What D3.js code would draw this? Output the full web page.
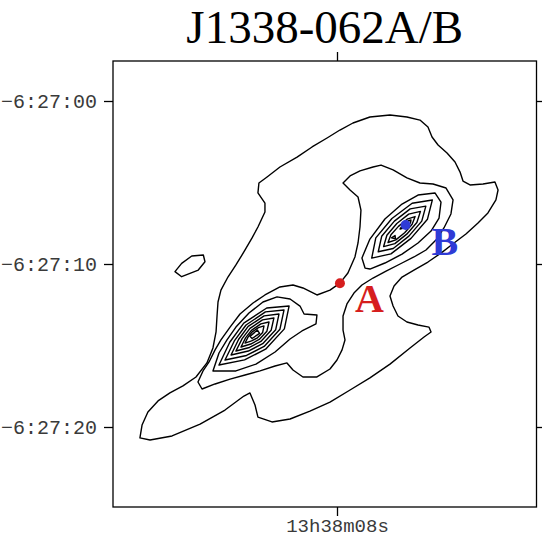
<!DOCTYPE html>
<html>
<head>
<meta charset="utf-8">
<script src="https://cdn.jsdelivr.net/npm/d3@7"></script>
<style>
  html, body { margin: 0; padding: 0; background: #fff; }
  svg { display: block; }
</style>
</head>
<body>
<svg id="chart" width="542" height="538"></svg>
<script>
// Contour vertices are sky offsets in arcseconds from RA 13h38m08s, Dec -6:27:00
// (x grows to the west, y grows to the south).

const outerContour = [[-12.09,20.67],[-11.96,19.88],[-11.60,19.08],[-10.98,18.40],[-10.25,17.91],[-9.45,17.48],[-8.65,16.93],[-7.98,16.07],[-7.61,15.15],[-7.42,14.17],[-7.36,13.19],[-7.30,12.33],[-7.12,11.60],[-6.69,10.80],[-6.20,10.06],[-5.64,9.14],[-5.21,8.40],[-4.85,7.73],[-4.42,6.81],[-4.42,6.26],[-4.85,5.64],[-4.79,5.03],[-4.29,4.66],[-3.50,4.05],[-2.45,3.44],[-1.53,2.82],[-0.61,2.27],[0.18,1.78],[0.98,1.35],[2.02,0.98],[3.25,0.86],[4.29,0.98],[5.09,1.17],[5.58,1.60],[5.83,2.21],[6.20,2.70],[6.75,3.19],[7.24,3.74],[7.55,4.36],[7.73,4.91],[8.16,5.15],[8.96,5.09],[9.69,4.97],[9.88,5.46],[9.75,6.07],[9.26,6.87],[8.65,7.48],[7.91,8.16],[7.18,8.71],[6.38,9.33],[5.58,9.88],[4.72,10.37],[3.99,10.80],[3.50,11.35],[3.25,11.96],[3.44,12.58],[3.74,13.19],[4.29,13.56],[4.97,13.74],[5.64,13.87],[5.77,14.17],[5.34,14.48],[4.48,15.15],[3.25,16.14],[2.02,16.99],[0.80,17.73],[-0.43,18.47],[-1.66,19.02],[-2.88,19.51],[-3.99,19.69],[-4.85,19.39],[-5.03,18.65],[-5.34,17.91],[-5.71,18.10],[-6.87,18.96],[-8.40,19.82],[-10.12,20.55],[-11.47,20.80]];

const bridgeContour = [[0.37,5.03],[0.80,4.60],[1.41,4.29],[2.21,4.05],[2.70,3.93],[3.44,4.23],[4.29,4.72],[5.09,5.03],[5.89,5.09],[6.69,5.34],[7.12,6.07],[6.99,6.93],[6.56,7.79],[6.07,8.53],[5.46,9.14],[4.72,9.57],[3.87,10.00],[3.01,10.43],[2.21,10.86],[1.53,11.29],[1.04,11.78],[0.61,12.45],[0.37,13.19],[0.37,14.05],[0.49,14.66],[0.31,15.27],[0,15.89],[-0.43,16.44],[-1.23,16.93],[-2.09,16.93],[-2.70,16.50],[-3.07,16.07],[-3.80,16.26],[-4.72,16.56],[-5.64,16.81],[-6.56,17.06],[-7.48,17.36],[-8.28,17.67],[-8.53,17.24],[-8.22,16.56],[-7.85,16.01],[-7.48,15.27],[-7.12,14.66],[-6.56,13.87],[-5.95,13.07],[-5.15,12.39],[-4.42,11.90],[-3.50,11.41],[-2.70,11.29],[-2.09,11.47],[-1.23,11.90],[-0.43,11.60],[0.18,11.17],[0.67,10.55],[1.10,9.57],[1.29,8.71],[1.41,7.73],[1.47,6.69],[1.29,5.89],[0.80,5.46]];

const islandContour = [[-9.94,10.47],[-9.53,9.96],[-8.91,9.51],[-8.20,9.45],[-8.10,9.86],[-8.51,10.37],[-9.02,10.57],[-9.53,10.78]];

// Nested levels around the south-west peak
const southPeak3 = [[-7.61,16.56],[-7.24,15.46],[-6.75,14.66],[-6.20,13.87],[-5.40,13.01],[-4.54,12.33],[-3.68,12.02],[-2.88,12.15],[-2.27,12.58],[-2.02,13.07],[-1.23,13.13],[-1.29,13.68],[-2.15,14.11],[-2.88,14.60],[-3.80,15.40],[-4.97,16.14],[-6.20,16.56]];
const southPeak4 = [[-2.94,12.58],[-3.23,13.98],[-4.38,15.23],[-5.67,15.88],[-7.24,16.20],[-6.58,14.80],[-5.72,13.63],[-4.31,12.70]];
const southPeak5 = [[-3.25,12.82],[-3.50,14.00],[-4.47,15.06],[-5.55,15.61],[-6.87,15.89],[-6.30,14.72],[-5.58,13.74],[-4.39,12.94]];
const southPeak6 = [[-3.56,13.07],[-3.76,14.03],[-4.56,14.89],[-5.44,15.34],[-6.50,15.58],[-6.04,14.63],[-5.45,13.83],[-4.47,13.18]];
const southPeak7 = [[-3.87,13.31],[-4.04,14.07],[-4.67,14.75],[-5.37,15.12],[-6.20,15.34],[-5.82,14.58],[-5.34,13.95],[-4.57,13.43]];
const southPeak8 = [[-4.17,13.56],[-4.30,14.12],[-4.77,14.63],[-5.29,14.91],[-5.89,15.09],[-5.61,14.53],[-5.25,14.07],[-4.67,13.67]];
const southPeak9 = [[-4.48,13.80],[-4.56,14.20],[-4.88,14.53],[-5.24,14.72],[-5.64,14.85],[-5.45,14.47],[-5.20,14.16],[-4.82,13.90]];
const southPeak10 = [[-5.34,14.44],[-4.88,14.05],[-4.75,14.26],[-5.21,14.57]];

// Nested levels around the north-east peak
const northPeak3 = [[1.72,10.25],[1.53,9.63],[2.02,8.47],[2.94,7.24],[3.99,6.32],[4.97,5.77],[6.01,5.64],[6.38,6.20],[6.26,7.18],[5.77,7.98],[4.97,8.71],[3.99,9.39],[2.94,9.94],[2.02,10.31]];
const northPeak4 = [[5.85,6.07],[5.55,7.25],[4.54,8.43],[3.31,9.38],[2.13,9.64],[2.38,8.40],[3.37,7.21],[4.61,6.27]];
const northPeak5 = [[5.45,6.45],[5.20,7.37],[4.41,8.29],[3.45,9.05],[2.53,9.25],[2.74,8.30],[3.52,7.37],[4.49,6.62]];
const northPeak6 = [[5.12,6.77],[4.90,7.45],[4.28,8.17],[3.55,8.75],[2.86,8.93],[3.06,8.24],[3.67,7.52],[4.40,6.94]];
const northPeak7 = [[4.79,7.09],[4.61,7.56],[4.15,8.08],[3.61,8.52],[3.13,8.68],[3.31,8.20],[3.77,7.69],[4.30,7.25]];
const northPeak8a = [[3.87,7.85],[4.05,7.58],[4.36,7.36],[4.54,7.30],[4.51,7.48],[4.20,7.76]];
const northPeak8b = [[3.34,8.39],[3.56,8.25],[3.59,8.45]];

const contourSet = [
  outerContour, bridgeContour, islandContour,
  southPeak3, southPeak4, southPeak5, southPeak6, southPeak7, southPeak8, southPeak9, southPeak10,
  northPeak3, northPeak4, northPeak5, northPeak6, northPeak7, northPeak8a, northPeak8b
];

// Optical positions of the two components
const sourceNames = ["A", "B"];
const sourceX = [0.18, 4.21];
const sourceY = [11.18, 7.61];
const sourceColors = ["#d61e1e", "#2f3bd6"];

// Axis ticks
const decTicks = [0, 10, 20];
const decTickLabels = ["\u22126:27:00", "\u22126:27:10", "\u22126:27:20"];
const raTicks = [0];
const raTickLabels = ["13h38m08s"];

const titleText = "J1338-062A/B";

const svg = d3.select("#chart");

const x = d3.scaleLinear().domain([-13.742, 12.239]).range([113, 536.5]);
const y = d3.scaleLinear().domain([-2.454, 24.908]).range([61, 507]);

const [x0, x1] = x.range();
const [y0, y1] = y.range();

// Contours
const line = d3.line()
  .x(d => x(d[0]))
  .y(d => y(d[1]))
  .curve(d3.curveLinearClosed);

svg.append("g")
  .selectAll("path")
  .data(contourSet)
  .join("path")
  .attr("d", line)
  .attr("fill", "none")
  .attr("stroke", "#000")
  .attr("stroke-width", 1.4)
  .attr("stroke-linejoin", "round");

// Frame
svg.append("rect")
  .attr("x", x0).attr("y", y0)
  .attr("width", x1 - x0).attr("height", y1 - y0)
  .attr("fill", "none")
  .attr("stroke", "#000")
  .attr("stroke-width", 1.3);

const tickFont = "'Liberation Mono', 'Courier New', monospace";

function styleAxis(size) {
  return g => {
    g.select(".domain").remove();
    g.selectAll(".tick line").attr("stroke-width", 1.3);
    g.attr("font-family", tickFont).attr("font-size", size);
    g.selectAll(".tick text").attr("fill", "#3a3a3a");
  };
}

svg.append("g")
  .attr("transform", `translate(${x0},0)`)
  .call(d3.axisLeft(y).tickValues(decTicks).tickFormat((d, i) => decTickLabels[i]).tickSize(9).tickPadding(7))
  .call(styleAxis(20));

svg.append("g")
  .attr("transform", `translate(${x1},0)`)
  .call(d3.axisRight(y).tickValues(decTicks).tickFormat("").tickSize(9))
  .call(styleAxis(20));

svg.append("g")
  .attr("transform", `translate(0,${y0})`)
  .call(d3.axisTop(x).tickValues(raTicks).tickFormat("").tickSize(9))
  .call(styleAxis(20));

svg.append("g")
  .attr("transform", `translate(0,${y1})`)
  .call(d3.axisBottom(x).tickValues(raTicks).tickFormat((d, i) => raTickLabels[i]).tickSize(9).tickPadding(2.5))
  .call(styleAxis(19));

// Title
svg.append("text")
  .attr("x", (x0 + x1) / 2)
  .attr("y", 43)
  .attr("text-anchor", "middle")
  .attr("font-family", "'Liberation Serif', 'Times New Roman', serif")
  .attr("font-size", 47)
  .attr("fill", "#000")
  .text(titleText);

// Source markers and their labels
const labelOffset = [[15, 29], [26, 30]];
const src = svg.append("g");
sourceNames.forEach((name, i) => {
  src.append("circle")
    .attr("cx", x(sourceX[i]))
    .attr("cy", y(sourceY[i]))
    .attr("r", 5)
    .attr("fill", sourceColors[i]);
  src.append("text")
    .attr("x", x(sourceX[i]) + labelOffset[i][0])
    .attr("y", y(sourceY[i]) + labelOffset[i][1])
    .attr("font-family", "'Liberation Serif', 'Times New Roman', serif")
    .attr("font-weight", "bold")
    .attr("font-size", 40)
    .attr("fill", sourceColors[i])
    .text(name);
});
</script>
</body>
</html>
